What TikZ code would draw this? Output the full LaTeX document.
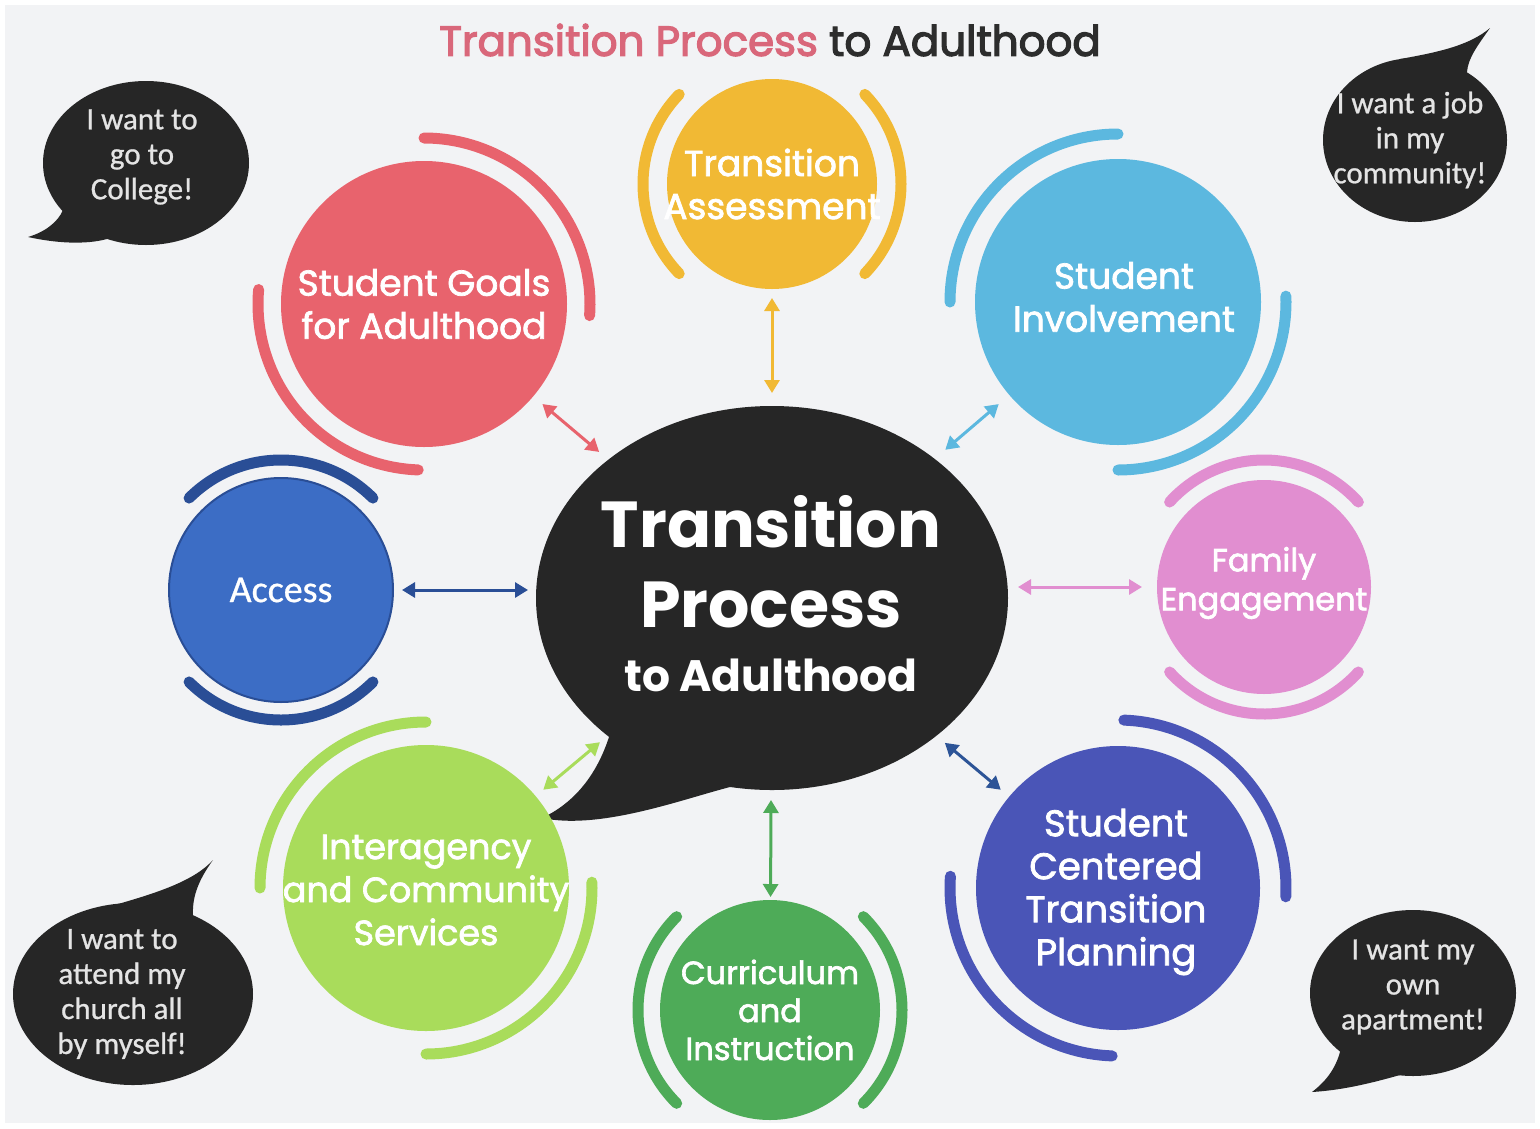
\documentclass[tikz,border=0pt]{standalone}
\usepackage{fontspec}
\usepackage{xcolor}
\newfontfamily\popfont[FakeBold=2]{Poppins}
\newfontfamily\titlefont[FakeBold=3]{Poppins}
\newfontfamily\hubfont{Poppins}
\newfontfamily\calfont[FakeBold=0.8]{Carlito}
\usetikzlibrary{shapes.geometric, arrows.meta, positioning}
\definecolor{bgcol}{HTML}{F2F3F5}
\definecolor{hubblack}{HTML}{262626}
\definecolor{titlepink}{HTML}{D9677A}
\definecolor{titledark}{HTML}{2D2D2D}
\definecolor{assesscol}{HTML}{F1B934}
\definecolor{goalcol}{HTML}{E8636D}
\definecolor{involvecol}{HTML}{5CB8DF}
\definecolor{accesscol}{HTML}{3C6DC5}
\definecolor{accessedge}{HTML}{2A4E96}
\definecolor{familycol}{HTML}{E18ED0}
\definecolor{intercol}{HTML}{A9DC5B}
\definecolor{currcol}{HTML}{4EAB58}
\definecolor{plancol}{HTML}{4A55B7}
\definecolor{planlink}{HTML}{2D5497}
\definecolor{saygray}{HTML}{E4E4E4}

\tikzset{
  sat/.style={circle, fill=#1, inner sep=0pt, outer sep=0pt},
  ring/.style={draw=#1, line width=11pt, line cap=round},
  satlabel/.style={text=white, align=center, font=\popfont\fontsize{36}{43}\selectfont},
  link/.style={draw=#1, line width=3pt, {Triangle[length=13pt,width=15pt]}-{Triangle[length=13pt,width=15pt]}},
  bubble/.style={ellipse, fill=hubblack, inner sep=0pt, outer sep=0pt},
  saytext/.style={text=saygray, align=center, font=\calfont\fontsize{31}{35}\selectfont},
}

\begin{document}
\begin{tikzpicture}[x=1pt, y=1pt]
    % background
    \fill[white] (0,0) rectangle (1540,-1128);
    \fill[bgcol] (5,-5) rectangle (1535,-1123);
    \useasboundingbox (0,0) rectangle (1540,-1128);

    % title
    \node[font=\titlefont\fontsize{42}{50}\selectfont, text=titledark] (title) at (770,-40)
        {\textcolor{titlepink}{Transition Process} to Adulthood};

    % central speech bubble
    \node[bubble, minimum width=472pt, minimum height=384pt] (hub) at (772,-598) {};
    \fill[hubblack] (609,-737) .. controls (595,-780) and (570,-805) .. (542,-818)
        .. controls (600,-830) and (680,-800) .. (730,-787) -- (680,-700) -- cycle;
    \node[text=white, align=center, font=\hubfont\bfseries\fontsize{65}{80}\selectfont] (hub-txt) at (771,-594)
        {Transition\\Process\\[-16pt]{\fontsize{44}{52}\selectfont to Adulthood}};

    % satellite circles
    \node[sat=assesscol, minimum size=210pt] (assess) at (772,-184) {};
    \node[sat=goalcol, minimum size=286pt] (goals) at (424,-304) {};
    \node[sat=involvecol, minimum size=286pt] (involve) at (1118,-302) {};
    \node[sat=accesscol, draw=accessedge, line width=2pt, minimum size=224pt] (access) at (281,-590) {};
    \node[sat=familycol, minimum size=214pt] (family) at (1264,-587) {};
    \node[sat=intercol, minimum size=286pt] (inter) at (426,-888) {};
    \node[sat=currcol, minimum size=220pt] (curr) at (770,-1010) {};
    \node[sat=plancol, minimum size=284pt] (plan) at (1118,-888) {};

    % rings round the circles
    \draw[ring=assesscol] (assess.center) ++(136:129) arc[start angle=136, end angle=224, radius=129];
    \draw[ring=assesscol] (assess.center) ++(-44:129) arc[start angle=-44, end angle=44, radius=129];
    \draw[ring=goalcol] (goals.center) ++(-4:166) arc[start angle=-4, end angle=90, radius=166];
    \draw[ring=goalcol] (goals.center) ++(175:166) arc[start angle=175, end angle=268, radius=166];
    \draw[ring=involvecol] (involve.center) ++(90:168) arc[start angle=90, end angle=180, radius=168];
    \draw[ring=involvecol] (involve.center) ++(-90:168) arc[start angle=-90, end angle=2, radius=168];
    \draw[ring=accessedge] (access.center) ++(45:130) arc[start angle=45, end angle=135, radius=130];
    \draw[ring=accessedge] (access.center) ++(225:130) arc[start angle=225, end angle=315, radius=130];
    \draw[ring=familycol] (family.center) ++(42:127) arc[start angle=42, end angle=138, radius=127];
    \draw[ring=familycol] (family.center) ++(222:127) arc[start angle=222, end angle=318, radius=127];
    \draw[ring=intercol] (inter.center) ++(90:166) arc[start angle=90, end angle=180, radius=166];
    \draw[ring=intercol] (inter.center) ++(-90:166) arc[start angle=-90, end angle=2, radius=166];
    \draw[ring=currcol] (curr.center) ++(135:132) arc[start angle=135, end angle=225, radius=132];
    \draw[ring=currcol] (curr.center) ++(-45:132) arc[start angle=-45, end angle=45, radius=132];
    \draw[ring=plancol] (plan.center) ++(-3:168) arc[start angle=-3, end angle=88, radius=168];
    \draw[ring=plancol] (plan.center) ++(176:168) arc[start angle=176, end angle=268, radius=168];

    % circle labels
    \node[satlabel] (assess-txt) at (assess) {Transition\\Assessment};
    \node[satlabel] (goals-txt) at (goals) {Student Goals\\for Adulthood};
    \node[satlabel] (involve-txt) at (1124,-297) {Student\\Involvement};
    \node[text=white, font=\calfont\fontsize{38}{44}\selectfont] (access-txt) at (access) {Access};
    \node[satlabel, font=\popfont\fontsize{32}{39}\selectfont] (family-txt) at (1264,-583) {Family\\Engagement};
    \node[satlabel, font=\popfont\fontsize{35}{43}\selectfont] (inter-txt) at (426,-890) {Interagency\\and Community\\Services};
    \node[satlabel, font=\popfont\fontsize{32}{38}\selectfont] (curr-txt) at (curr) {Curriculum\\and\\Instruction};
    \node[satlabel, font=\popfont\fontsize{37}{43}\selectfont] (plan-txt) at (1116,-892) {Student\\Centered\\Transition\\Planning};

    % arrows to the centre
    \draw[link=assesscol, shorten <=9pt, shorten >=13pt] (assess) -- (hub);
    \draw[link=goalcol, shorten <=12pt, shorten >=12pt] (goals) -- (hub);
    \draw[link=involvecol, shorten <=14pt, shorten >=14pt] (involve) -- (hub);
    \draw[link=accessedge, shorten <=9pt, shorten >=8pt] (access.east) -- (access.east -| hub.west);
    \draw[link=familycol, shorten <=15pt, shorten >=10pt] (family.west) -- (family.west -| hub.east);
    \draw[link=intercol, shorten <=10pt, shorten >=10pt] (inter) -- (hub);
    \draw[link=currcol, shorten <=3pt, shorten >=10pt] (curr) -- (hub);
    \draw[link=planlink, shorten <=11pt, shorten >=11pt] (plan) -- (hub);

    % speech bubbles
    \node[bubble, minimum width=206pt, minimum height=164pt] (say-college) at (146,-163) {};
    \fill[hubblack] (63,-210) .. controls (58,-222) and (45,-232) .. (28,-237)
        .. controls (55,-243) and (85,-245) .. (107,-239) -- (100,-200) -- cycle;
    \node[saytext] (college-txt) at (142,-157) {I want to\\go to\\College!};

    \node[bubble, minimum width=184pt, minimum height=164pt] (say-job) at (1415,-140) {};
    \fill[hubblack] (1400,-59) .. controls (1440,-52) and (1470,-45) .. (1490,-28)
        .. controls (1478,-45) and (1468,-58) .. (1467,-72) -- (1430,-90) -- cycle;
    \node[saytext] (job-txt) at (1410,-140) {I want a job\\in my\\community!};

    \node[bubble, minimum width=240pt, minimum height=182pt] (say-church) at (133,-994) {};
    \fill[hubblack] (118,-904) .. controls (160,-892) and (195,-880) .. (213,-860)
        .. controls (200,-878) and (192,-895) .. (193,-915) -- (150,-940) -- cycle;
    \node[saytext] (church-txt) at (122,-994) {I want to\\attend my\\church all\\by myself!};

    \node[bubble, minimum width=206pt, minimum height=166pt] (say-flat) at (1413,-993) {};
    \fill[hubblack] (1340,-1052) .. controls (1335,-1070) and (1325,-1082) .. (1312,-1092)
        .. controls (1345,-1090) and (1375,-1082) .. (1400,-1075) -- (1390,-1040) -- cycle;
    \node[saytext] (flat-txt) at (1413,-987) {I want my\\own\\apartment!};
\end{tikzpicture}
\end{document}
